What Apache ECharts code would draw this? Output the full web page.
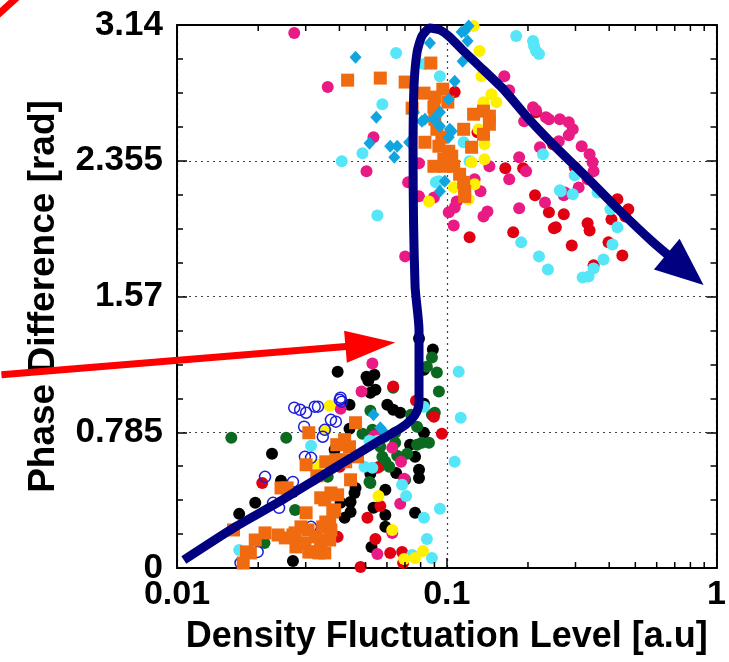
<!DOCTYPE html>
<html>
<head>
<meta charset="utf-8">
<script src="https://cdn.jsdelivr.net/npm/echarts@6.0.0/dist/echarts.min.js"></script>
<style>
html,body{margin:0;padding:0;background:#fff;}
#chart{width:729px;height:662px;}
</style>
</head>
<body>
<div id="chart"></div>
<script>
// ---------- axis / tick data ----------
const xTickLabels = ['0.01', '0.1', '1'];
const yTickLabels = ['0', '0.785', '1.57', '2.355', '3.14'];
const xMinorTicks = [0.02,0.03,0.04,0.05,0.06,0.07,0.08,0.09,0.2,0.3,0.4,0.5,0.6,0.7,0.8,0.9];

// ---------- scatter series data [density, phase] ----------
const blackPts = [[0.0394,1.135],[0.0504,1.106],[0.0539,1.118],[0.0512,1.083],[0.0544,1.031],[0.0521,1.014],[0.0436,0.944],[0.0602,0.944],[0.0633,0.915],[0.0672,0.898],[0.0789,1.327],[0.0888,1.263],[0.0823,1.147],[0.0823,0.950],[0.0436,0.805],[0.0823,0.782],[0.0731,0.713],[0.0763,0.643],[0.0384,0.684],[0.0521,0.545],[0.0649,0.550],[0.0789,0.568],[0.0789,0.521],[0.0459,0.463],[0.0455,0.434],[0.0592,0.452],[0.0440,0.382],[0.0404,0.377],[0.0535,0.348],[0.0440,0.324],[0.0418,0.290],[0.0592,0.307],[0.0763,0.319],[0.0592,0.238],[0.0526,0.122],[0.0225,0.660],[0.0243,0.504],[0.0195,0.377],[0.0170,0.313],[0.0269,0.041],[0.0269,0.440]];
const greenPts = [[0.0881,1.217],[0.0844,1.164],[0.0919,1.130],[0.0633,1.043],[0.0935,1.020],[0.0903,0.898],[0.0521,0.910],[0.0737,0.886],[0.0487,0.776],[0.0809,0.724],[0.0859,0.724],[0.0587,0.759],[0.0713,0.660],[0.0655,0.649],[0.0577,0.643],[0.0562,0.585],[0.0612,0.585],[0.0521,0.492],[0.0701,0.510],[0.0644,0.782],[0.0362,0.527],[0.0159,0.753],[0.0254,0.753],[0.0211,0.145],[0.0274,0.336],[0.0530,0.799],[0.0567,0.701],[0.0592,0.614],[0.0644,0.724],[0.0776,0.713],[0.0881,0.886],[0.0776,0.817],[0.0517,0.498]];
const redPts = [[0.0633,1.049],[0.0769,0.967],[0.0896,0.875],[0.0959,0.776],[0.0553,0.579],[0.0567,0.359],[0.0508,0.290],[0.0394,0.180],[0.0544,0.168],[0.0617,0.087],[0.0683,0.093],[0.0479,0.006],[0.0401,0.585],[0.0207,0.492],[0.0689,0.029],[0.1070,2.752],[0.1300,2.520],[0.1648,2.311],[0.1919,2.311],[0.2124,2.155],[0.2391,2.057],[0.2715,2.045],[0.2495,1.964],[0.1763,1.941],[0.1215,1.912],[0.3327,1.993],[0.3384,1.952],[0.2906,1.865],[0.3976,1.883],[0.4475,1.807],[0.4078,2.016],[0.4290,2.132],[0.4708,2.074],[0.4590,2.033],[0.3501,1.750],[0.2981,2.317],[0.2142,2.636],[0.2474,2.450],[0.2537,1.970]];
const magentaPts = [[0.0530,1.182],[0.0483,1.020],[0.0404,0.921],[0.0539,0.765],[0.0628,0.695],[0.0677,0.614],[0.0695,0.516],[0.0672,0.371],[0.0628,0.203],[0.0553,0.081],[0.0272,3.094],[0.0362,2.781],[0.0535,2.491],[0.0504,2.294],[0.0719,2.230],[0.0789,2.340],[0.0789,2.149],[0.0896,2.143],[0.0701,1.802],[0.1634,2.844],[0.1704,2.763],[0.2088,2.665],[0.2142,2.647],[0.1936,2.584],[0.2331,2.607],[0.2391,2.595],[0.2625,2.595],[0.2833,2.578],[0.2931,2.537],[0.2833,2.503],[0.3162,2.439],[0.3384,2.393],[0.3471,2.346],[0.3501,2.294],[0.3327,2.248],[0.3083,2.201],[0.2738,2.172],[0.2312,2.114],[0.1855,2.080],[0.1855,2.375],[0.1968,2.294],[0.1704,2.248],[0.1439,2.323],[0.1415,2.062],[0.1368,2.033],[0.1061,1.981],[0.1088,2.120],[0.1070,2.085],[0.1017,2.057],[0.1268,2.248],[0.1334,2.178],[0.2215,2.433],[0.2602,2.468],[0.2715,2.155]];
const cyanPts = [[0.1107,1.135],[0.1126,0.869],[0.1070,0.614],[0.0823,0.933],[0.0517,0.736],[0.0553,0.736],[0.0495,0.585],[0.0683,0.481],[0.0707,0.417],[0.0943,0.342],[0.0823,0.290],[0.0844,0.168],[0.0881,0.058],[0.0744,0.075],[0.0314,0.707],[0.0170,0.104],[0.0530,0.579],[0.0649,2.978],[0.0577,2.682],[0.0487,2.398],[0.0408,2.352],[0.0553,2.039],[0.0823,2.914],[0.0911,2.230],[0.1808,3.076],[0.2088,3.047],[0.2106,3.018],[0.2142,2.989],[0.2197,2.972],[0.0943,2.844],[0.1155,2.462],[0.1215,2.352],[0.0935,2.236],[0.2273,2.393],[0.2647,2.178],[0.2931,2.161],[0.2981,2.271],[0.1887,1.883],[0.2197,1.802],[0.2371,1.726],[0.3189,1.680],[0.3355,1.686],[0.3501,1.732],[0.3810,1.784],[0.4113,1.871],[0.4290,1.970],[0.4044,2.074],[0.3622,2.172],[0.2625,2.184]];
const yellowPts = [[0.0368,0.938],[0.0356,0.799],[0.0558,0.417],[0.0628,0.220],[0.0816,0.098],[0.0763,0.058],[0.0695,0.052],[0.0333,0.597],[0.1257,3.134],[0.1322,2.989],[0.1345,2.844],[0.1464,2.740],[0.1368,2.694],[0.1527,2.694],[0.1311,2.537],[0.1380,2.450],[0.1236,2.346],[0.1380,2.364],[0.1268,2.219],[0.1205,2.132],[0.1061,2.201],[0.0859,2.120]];
const orangePts = [[0.0162,0.220],[0.0195,0.162],[0.0212,0.203],[0.0237,0.191],[0.0181,0.093],[0.0176,0.029],[0.0187,0.087],[0.0252,0.174],[0.0274,0.203],[0.0298,0.145],[0.0306,0.220],[0.0314,0.093],[0.0341,0.122],[0.0353,0.087],[0.0372,0.220],[0.0368,0.261],[0.0353,0.394],[0.0341,0.406],[0.0372,0.434],[0.0384,0.336],[0.0243,0.463],[0.0256,0.463],[0.0301,0.597],[0.0308,0.782],[0.0330,0.533],[0.0356,0.614],[0.0391,0.713],[0.0418,0.742],[0.0436,0.701],[0.0459,0.840],[0.0388,0.626],[0.0422,0.614],[0.0440,0.510],[0.0467,0.643],[0.0301,0.319],[0.0288,0.238],[0.0269,0.191],[0.0276,0.122],[0.0327,0.180],[0.0347,0.238],[0.0308,0.093],[0.0336,0.087],[0.0394,0.423],[0.0378,0.324],[0.0356,0.266],[0.0341,0.162],[0.0368,0.162],[0.0411,0.626],[0.0429,2.821],[0.0567,2.833],[0.0701,2.810],[0.0873,2.920],[0.0823,2.746],[0.0967,2.769],[0.0903,2.723],[0.1009,2.694],[0.0744,2.659],[0.0896,2.665],[0.0903,2.595],[0.0919,2.537],[0.1155,2.537],[0.1257,2.624],[0.1368,2.642],[0.1439,2.613],[0.1439,2.566],[0.1368,2.508],[0.1236,2.433],[0.0830,2.462],[0.0959,2.491],[0.1017,2.410],[0.1043,2.381],[0.0983,2.323],[0.1061,2.323],[0.0896,2.323],[0.1116,2.277],[0.1155,2.230],[0.1165,2.178],[0.1165,2.149],[0.0935,2.439],[0.0975,2.364]];
const blueOpenPts = [[0.0272,0.927],[0.0286,0.915],[0.0301,0.898],[0.0324,0.933],[0.0296,0.817],[0.0347,0.759],[0.0353,0.799],[0.0372,0.857],[0.0388,0.846],[0.0401,0.973],[0.0404,0.985],[0.0314,0.637],[0.0298,0.643],[0.0212,0.527],[0.0269,0.498],[0.0227,0.377],[0.0239,0.348],[0.0199,0.093],[0.0172,0.029],[0.0314,0.238],[0.0333,0.933],[0.0408,0.962]];
const diamondPts = [[0.0535,0.886],[0.0567,0.811],[0.0592,0.776],[0.1205,3.134],[0.1165,3.105],[0.1135,3.099],[0.1195,3.047],[0.1145,2.931],[0.1070,2.815],[0.0866,3.036],[0.0459,2.954],[0.0548,2.607],[0.0517,2.456],[0.0617,2.439],[0.0655,2.439],[0.0639,2.375],[0.0725,2.462],[0.0809,2.584],[0.0830,2.595],[0.0896,2.595],[0.0943,2.636],[0.1017,2.711],[0.1026,2.537],[0.1043,2.526],[0.0983,2.236],[0.0943,2.178],[0.0756,2.636],[0.1017,2.491],[0.0943,2.555]];

// ---------- trajectory curve & arrows ----------
const navyCurve = [[0.0106,0.046],[0.0165,0.239],[0.0237,0.379],[0.0333,0.520],[0.0455,0.649],[0.0567,0.740],[0.0672,0.806],[0.0740,0.860],[0.0775,0.905],[0.0789,0.960],[0.0789,1.089],[0.0789,1.379],[0.0763,1.628],[0.0750,2.404],[0.0756,2.786],[0.0776,2.983],[0.0809,3.076],[0.0866,3.122],[0.0943,3.111],[0.1026,3.070],[0.1155,2.989],[0.1322,2.902],[0.1620,2.769],[0.2019,2.595],[0.2537,2.433],[0.3271,2.265],[0.4326,2.074],[0.5768,1.889],[0.765,1.726]];
const navyHead = [[0.765,1.726]];
const redArrow = [[0.002235,1.117],[0.0521,1.292]];
const redHead = [[0.0521,1.292]];
const redCorner = [[0.00204,3.163],[0.00274,3.343]];

const FONT = '"Liberation Sans", Arial, Helvetica, sans-serif';
const yMin = 0, yMax = 3.14;

const chart = echarts.init(document.getElementById('chart'), null, {renderer: 'canvas'});

function scatter(name, data, opts) {
  const s = Object.assign({
    name: name, type: 'scatter', data: data, xAxisIndex: 0, yAxisIndex: 0,
    symbol: 'circle', symbolSize: 12, z: 2
  }, opts);
  s.itemStyle = Object.assign({opacity: 1}, s.itemStyle || {});
  return s;
}

// polyline annotation drawn through the axes' scales, not clipped to the grid
function strokeSeries(points, color, width) {
  return {
    type: 'custom', coordinateSystem: 'cartesian2d', xAxisIndex: 0, yAxisIndex: 0,
    data: [points[0]], clip: false, z: 6, silent: true,
    renderItem: function (params, api) {
      return {
        type: 'polyline',
        shape: {points: points.map(p => api.coord(p))},
        style: {stroke: color, lineWidth: width, fill: null, lineCap: 'butt'}
      };
    }
  };
}

const tickMarkStyle = {color: '#000', opacity: 1};

const option = {
  animation: false,
  backgroundColor: '#fff',
  grid: {left: 177, right: 8, top: 25, bottom: 94, containLabel: false},
  xAxis: [
    {
      type: 'log', logBase: 10, min: 0.01, max: 1, position: 'bottom',
      name: 'Density Fluctuation Level [a.u]', nameLocation: 'middle', nameGap: 51,
      nameTextStyle: {fontSize: 36, fontWeight: 'bold', color: '#000', fontFamily: FONT},
      axisLine: {show: true, onZero: false, lineStyle: {color: '#000', width: 2}},
      axisTick: {show: true, inside: true, length: 10, lineStyle: {color: '#000', width: 1.5}},
      minorTick: {show: false},
      axisLabel: {fontSize: 34, fontWeight: 'bold', color: '#000', margin: 10, fontFamily: FONT,
        formatter: (v, i) => xTickLabels[i]},
      splitLine: {show: true, lineStyle: {color: '#444', type: [2, 4], width: 1.2}}
    },
    {
      type: 'log', logBase: 10, min: 0.01, max: 1, position: 'top',
      axisLine: {show: true, onZero: false, lineStyle: {color: '#000', width: 2}},
      axisTick: {show: true, inside: true, length: 10, lineStyle: {color: '#000', width: 1.5}},
      axisLabel: {show: false}, splitLine: {show: false}
    }
  ],
  yAxis: [
    {
      type: 'value', min: yMin, max: yMax, interval: 0.785, position: 'left',
      name: 'Phase Difference [rad]', nameLocation: 'middle', nameGap: 115, nameRotate: 90,
      nameTextStyle: {fontSize: 37, fontWeight: 'bold', color: '#000', fontFamily: FONT},
      axisLine: {show: true, onZero: false, lineStyle: {color: '#000', width: 2}},
      axisTick: {show: true, inside: true, length: 10, lineStyle: {color: '#000', width: 1.5}},
      minorTick: {show: true, splitNumber: 4, length: 6, lineStyle: {color: '#000', width: 1.5}},
      axisLabel: {fontSize: 35, fontWeight: 'bold', color: '#000', margin: 14, fontFamily: FONT,
        formatter: (v, i) => yTickLabels[i]},
      splitLine: {show: true, lineStyle: {color: '#444', type: [2, 4], width: 1.2}}
    },
    {
      type: 'value', min: yMin, max: yMax, interval: 0.785, position: 'right',
      axisLine: {show: true, onZero: false, lineStyle: {color: '#000', width: 2}},
      axisTick: {show: true, inside: true, length: 10, lineStyle: {color: '#000', width: 1.5}},
      minorTick: {show: true, splitNumber: 4, length: 6, lineStyle: {color: '#000', width: 1.5}},
      axisLabel: {show: false}, splitLine: {show: false}
    }
  ],
  series: [
    // log minor ticks on bottom and top borders
    {type: 'scatter', xAxisIndex: 0, yAxisIndex: 0, silent: true, clip: false, z: 5,
      data: xMinorTicks.map(v => [v, yMin]), symbol: 'rect', symbolSize: [1.5, 6],
      symbolOffset: [0, -3], itemStyle: tickMarkStyle},
    {type: 'scatter', xAxisIndex: 0, yAxisIndex: 0, silent: true, clip: false, z: 5,
      data: xMinorTicks.map(v => [v, yMax]), symbol: 'rect', symbolSize: [1.5, 6],
      symbolOffset: [0, 3], itemStyle: tickMarkStyle},

    scatter('black', blackPts, {itemStyle: {color: '#000000'}}),
    scatter('green', greenPts, {itemStyle: {color: '#0b6a20'}}),
    scatter('red', redPts, {itemStyle: {color: '#e00012'}}),
    scatter('magenta', magentaPts, {itemStyle: {color: '#ea1a85'}}),
    scatter('cyan', cyanPts, {itemStyle: {color: '#55e6f7'}}),
    scatter('yellow', yellowPts, {itemStyle: {color: '#fff000'}}),
    scatter('blueOpen', blueOpenPts, {symbolSize: 11, itemStyle: {color: 'rgba(0,0,0,0)', borderColor: '#1c1ce0', borderWidth: 1.5}}),
    scatter('orange', orangePts, {symbol: 'rect', symbolSize: 13, itemStyle: {color: '#f06a10'}}),
    scatter('diamond', diamondPts, {symbol: 'diamond', symbolSize: [12, 13], itemStyle: {color: '#11a5e0'}}),

    {type: 'line', xAxisIndex: 0, yAxisIndex: 0, data: navyCurve, showSymbol: false, smooth: 0.2,
      clip: false, z: 6, silent: true, lineStyle: {color: '#000080', width: 9, opacity: 1}},
    {type: 'scatter', xAxisIndex: 0, yAxisIndex: 0, data: navyHead, symbol: 'triangle',
      symbolSize: [40, 48], symbolRotate: -130, clip: false, z: 7, silent: true,
      itemStyle: {color: '#000080', opacity: 1}},
    strokeSeries(redArrow, '#ff0000', 7),
    {type: 'scatter', xAxisIndex: 0, yAxisIndex: 0, data: redHead, symbol: 'triangle',
      symbolSize: [32, 50], symbolRotate: -85, clip: false, z: 7, silent: true,
      itemStyle: {color: '#ff0000', opacity: 1}},
    strokeSeries(redCorner, '#ff0000', 7)
  ]
};

chart.setOption(option);
</script>
</body>
</html>
